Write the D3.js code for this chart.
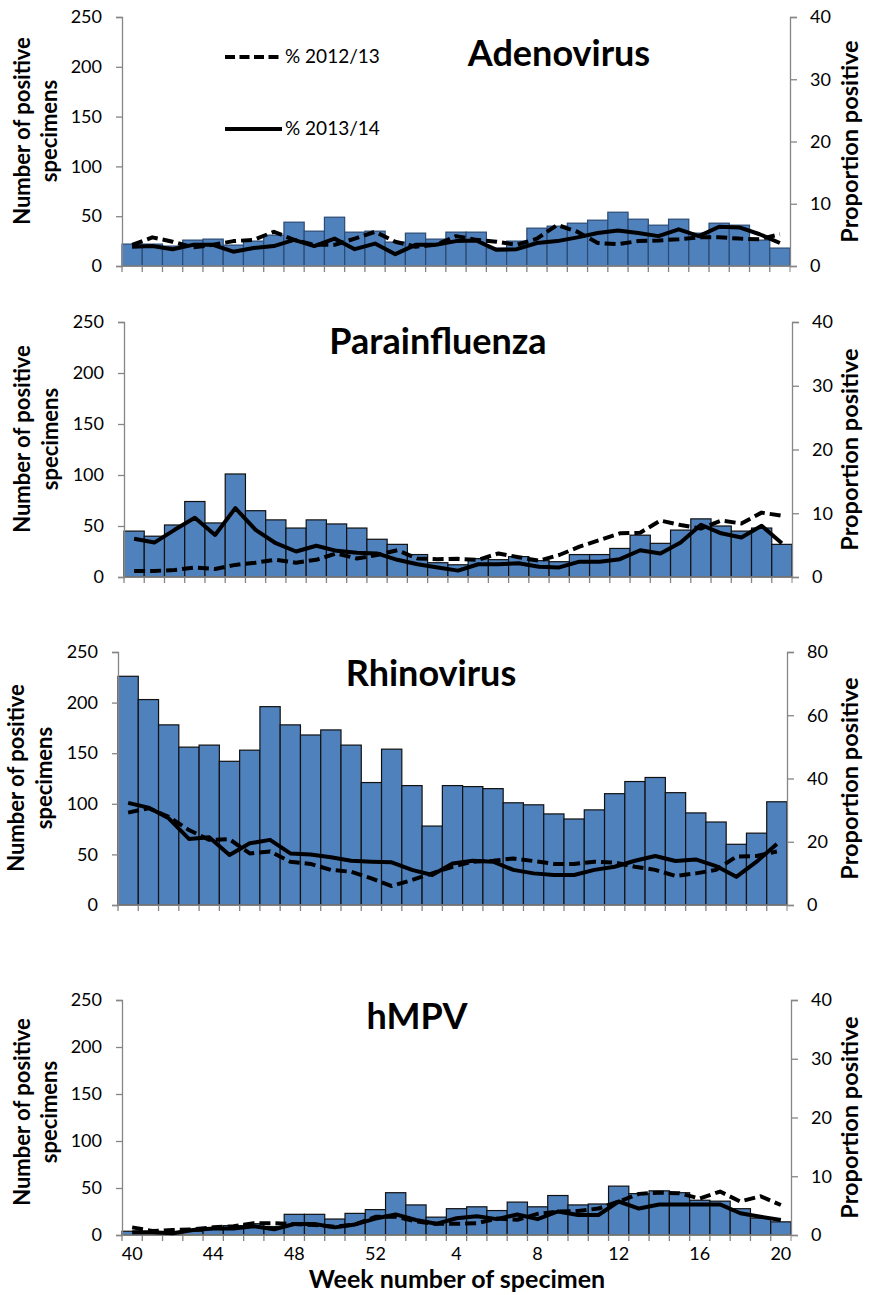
<!DOCTYPE html>
<html>
<head>
<meta charset="utf-8">
<script src="https://cdn.jsdelivr.net/npm/d3@7"></script>
<style>
  body { margin: 0; background: #fff; }
  svg { display: block; }
  text { font-family: Lato, "Open Sans", sans-serif; fill: #000; }
</style>
</head>
<body>
<svg id="chart" width="873" height="1295"></svg>
<script>
// Surveillance weeks, season runs from week 40 to week 20
const weeks = [40, 41, 42, 43, 44, 45, 46, 47, 48, 49, 50, 51, 52,
               1, 2, 3, 4, 5, 6, 7, 8, 9, 10, 11, 12, 13, 14, 15, 16, 17, 18, 19, 20];
const weekTickLabels = [40, 44, 48, 52, 4, 8, 12, 16, 20];
const countTicks = [0, 50, 100, 150, 200, 250];
const pctTicks40 = [0, 10, 20, 30, 40];
const pctTicks80 = [0, 20, 40, 60, 80];

// Adenovirus: positive specimens (2013/14) and proportion positive by season
const adenoCounts = [22, 22, 20, 26, 27, 21, 25, 31, 44, 35, 49, 34, 35, 24, 33, 27, 34,
                     34, 18, 25, 38, 40, 43, 46, 54, 47, 41, 47, 33, 43, 41, 26, 18];
const adenoPct1213 = [3.4, 4.6, 3.9, 3.0, 3.4, 4.0, 4.2, 5.5, 4.2, 3.4, 3.4, 4.4, 5.5, 3.9, 3.1, 3.4, 4.8,
                      4.2, 3.9, 3.4, 4.4, 6.6, 5.5, 3.7, 3.5, 4.0, 4.1, 4.3, 4.6, 4.6, 4.4, 4.3, 5.1];
const adenoPct1314 = [3.1, 3.2, 2.7, 3.4, 3.4, 2.3, 2.9, 3.2, 4.2, 3.2, 4.4, 2.7, 3.6, 1.9, 3.4, 3.4, 4.0,
                      4.1, 2.6, 2.7, 3.7, 4.0, 4.6, 5.3, 5.7, 5.3, 4.8, 5.9, 4.8, 6.3, 6.2, 5.1, 3.7];

// Parainfluenza
const paraCounts = [45, 40, 51, 74, 53, 101, 65, 56, 48, 56, 52, 48, 37, 32, 22, 14, 12,
                    18, 17, 20, 16, 15, 22, 22, 28, 41, 33, 46, 57, 50, 45, 48, 32];
const paraPct1213 = [0.94, 0.95, 1.1, 1.5, 1.25, 1.9, 2.25, 2.7, 2.25, 2.7, 3.7, 2.9, 3.45, 4.2, 2.9, 2.8, 2.85,
                     2.7, 3.7, 3.1, 2.55, 3.45, 4.75, 5.8, 6.85, 6.95, 8.85, 8.15, 7.6, 8.85, 8.4, 10.1, 9.6];
const paraPct1314 = [6.0, 5.4, 7.4, 9.3, 6.6, 10.8, 7.4, 5.3, 4.0, 4.9, 4.1, 3.8, 3.7, 2.7, 2.0, 1.5, 1.0,
                     2.0, 2.0, 2.15, 1.6, 1.5, 2.4, 2.4, 2.8, 4.2, 3.7, 5.4, 8.2, 6.85, 6.2, 8.05, 5.3];

// Rhinovirus
const rhinoCounts = [226, 203, 178, 156, 158, 142, 153, 196, 178, 168, 173, 158, 121, 154, 118, 78, 118,
                     117, 115, 101, 99, 90, 85, 94, 110, 122, 126, 111, 91, 82, 60, 71, 102];
const rhinoPct1213 = [29.2, 30.6, 27.9, 23.7, 20.6, 20.8, 16.3, 16.9, 13.7, 13.0, 11.1, 10.5, 8.4, 6.0, 7.9, 10.0, 12.1,
                      13.7, 14.0, 14.7, 13.9, 13.0, 13.0, 13.7, 13.4, 12.1, 11.1, 9.2, 10.0, 11.1, 15.3, 15.5, 16.9];
const rhinoPct1314 = [32.3, 30.8, 27.4, 20.9, 21.4, 15.8, 19.5, 20.6, 16.3, 16.0, 15.1, 14.0, 13.7, 13.5, 11.1, 9.5, 13.1,
                      14.0, 13.7, 11.1, 10.0, 9.5, 9.5, 11.1, 12.1, 14.0, 15.5, 13.9, 14.4, 12.3, 8.9, 13.7, 19.3];

// hMPV
const hmpvCounts = [4, 2, 1, 4, 7, 10, 12, 9, 22, 22, 17, 23, 27, 45, 32, 19, 28,
                    30, 26, 35, 30, 42, 32, 33, 52, 44, 47, 45, 37, 36, 28, 18, 14];
const hmpvPct1213 = [1.3, 0.68, 0.85, 0.97, 1.3, 1.5, 2.0, 2.0, 1.87, 1.7, 1.4, 1.8, 3.1, 3.1, 2.3, 1.9, 1.9,
                     2.0, 2.8, 2.6, 3.6, 4.0, 4.1, 4.5, 5.7, 7.0, 7.2, 7.1, 6.2, 7.4, 5.7, 6.6, 5.1];
const hmpvPct1314 = [0.45, 0.45, 0.3, 0.85, 1.1, 1.1, 1.5, 0.97, 1.87, 1.87, 1.3, 1.8, 2.8, 3.5, 2.55, 1.9, 2.85,
                     3.2, 2.7, 3.5, 2.7, 4.0, 3.4, 3.4, 5.7, 4.5, 5.2, 5.2, 5.2, 5.2, 3.7, 3.1, 2.55];

const panels = [
  { title: "Adenovirus", counts: adenoCounts, p1213: adenoPct1213, p1314: adenoPct1314,
    pctTicks: pctTicks40, left: 122, right: 790, top: 17, bottom: 266,
    titleX: 559, titleY: 66, yTitleY: 131, yTitleX: [30, 57], barStroke: "#2b4a74", legend: true },
  { title: "Parainfluenza", counts: paraCounts, p1213: paraPct1213, p1314: paraPct1314,
    pctTicks: pctTicks40, left: 124, right: 792, top: 322, bottom: 577,
    titleX: 438, titleY: 354, yTitleY: 439, yTitleX: [30, 58], barStroke: "#111" },
  { title: "Rhinovirus", counts: rhinoCounts, p1213: rhinoPct1213, p1314: rhinoPct1314,
    pctTicks: pctTicks80, left: 118, right: 787, top: 652, bottom: 905,
    titleX: 431, titleY: 686, yTitleY: 778, yTitleX: [24, 52], barStroke: "#111" },
  { title: "hMPV", counts: hmpvCounts, p1213: hmpvPct1213, p1314: hmpvPct1314,
    pctTicks: pctTicks40, left: 122, right: 791, top: 1000, bottom: 1235,
    titleX: 417, titleY: 1029, yTitleY: 1112, yTitleX: [30, 57], barStroke: "#111", weekLabels: true }
];

const svg = d3.select("#chart");
const axisColor = "#868686";

panels.forEach(p => {
  const g = svg.append("g");
  const x = d3.scaleBand().domain(d3.range(weeks.length)).range([p.left, p.right]).padding(0);
  const yCount = d3.scaleLinear().domain([0, 250]).range([p.bottom, p.top]);
  const yPct = d3.scaleLinear().domain([0, d3.max(p.pctTicks)]).range([p.bottom, p.top]);

  // bars
  g.append("g").selectAll("rect").data(p.counts).join("rect")
    .attr("x", (d, i) => x(i))
    .attr("y", d => yCount(d))
    .attr("width", x.bandwidth())
    .attr("height", d => yCount(0) - yCount(d))
    .attr("fill", "#4f81bd")
    .attr("stroke", p.barStroke)
    .attr("stroke-width", 1.2);

  // left axis
  const leftAxis = d3.axisLeft(yCount).tickValues(countTicks).tickSize(6).tickPadding(14);
  const la = g.append("g").attr("transform", `translate(${p.left},0)`).call(leftAxis);
  // right axis
  const rightAxis = d3.axisRight(yPct).tickValues(p.pctTicks).tickSize(7).tickPadding(13);
  const ra = g.append("g").attr("transform", `translate(${p.right},0)`).call(rightAxis);
  // bottom axis: ticks between every week
  const bottomAxis = d3.axisBottom(x)
    .tickValues(d3.range(weeks.length))
    .tickFormat(i => p.weekLabels && weekTickLabels.includes(weeks[i]) && (i % 4 === 0) ? weeks[i] : "")
    .tickSize(0).tickPadding(12);
  const ba = g.append("g").attr("transform", `translate(0,${p.bottom})`).call(bottomAxis);
  ba.selectAll(".tick").append("line")
    .attr("x1", -x.bandwidth() / 2).attr("x2", -x.bandwidth() / 2)
    .attr("y1", 0).attr("y2", 6).attr("stroke", axisColor);
  ba.append("line").attr("x1", p.right).attr("x2", p.right).attr("y1", 0).attr("y2", 6).attr("stroke", axisColor);

  [la, ra, ba].forEach(a => {
    a.selectAll("path.domain").attr("stroke", axisColor).attr("stroke-width", 1.3);
    a.selectAll(".tick line").attr("stroke", axisColor).attr("stroke-width", 1.3);
    a.selectAll("text").style("font-size", "18px").attr("fill", "#000");
  });
  ba.select("path.domain").attr("d", `M${p.left},0H${p.right}`);

  // proportion lines
  const line = d3.line().x((d, i) => x(i) + x.bandwidth() / 2).y(d => yPct(d));
  g.append("path").datum(p.p1213).attr("d", line)
    .attr("fill", "none").attr("stroke", "#000").attr("stroke-width", 4)
    .attr("stroke-dasharray", "11,5").attr("stroke-linejoin", "round");
  g.append("path").datum(p.p1314).attr("d", line)
    .attr("fill", "none").attr("stroke", "#000").attr("stroke-width", 4)
    .attr("stroke-linejoin", "round");

  // titles
  g.append("text").attr("x", p.titleX).attr("y", p.titleY).attr("text-anchor", "middle")
    .style("font-size", "36px").style("font-weight", "bold").text(p.title);

  const yt = g.append("text").attr("transform", `translate(0,${p.yTitleY}) rotate(-90)`)
    .attr("text-anchor", "middle").style("font-size", "22px").style("font-weight", "bold");
  yt.append("tspan").attr("x", 0).attr("y", p.yTitleX[0]).text("Number of positive");
  yt.append("tspan").attr("x", 0).attr("y", p.yTitleX[1]).text("specimens");

  g.append("text").attr("transform", `translate(858,${(p.top + p.bottom) / 2}) rotate(-90)`)
    .attr("text-anchor", "middle").style("font-size", "23.5px").style("font-weight", "bold")
    .text("Proportion positive");

  if (p.legend) {
    const items = [{ label: "% 2012/13", dash: "10,4.5", y: 57 }, { label: "% 2013/14", dash: null, y: 129 }];
    items.forEach(it => {
      g.append("line").attr("x1", 225).attr("x2", 282).attr("y1", it.y).attr("y2", it.y)
        .attr("stroke", "#000").attr("stroke-width", 4).attr("stroke-dasharray", it.dash);
      g.append("text").attr("x", 285).attr("y", it.y + 6).style("font-size", "19px").text(it.label);
    });
  }
  if (p.weekLabels) {
    g.append("text").attr("x", 457).attr("y", 1288).attr("text-anchor", "middle")
      .style("font-size", "25px").style("font-weight", "bold").text("Week number of specimen");
  }
});
</script>
</body>
</html>
